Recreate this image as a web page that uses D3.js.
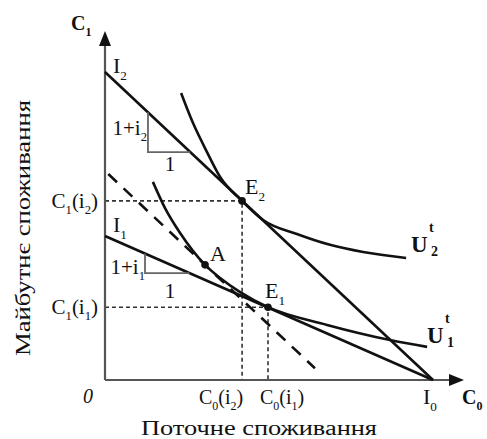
<!DOCTYPE html>
<html>
<head>
<meta charset="utf-8">
<script src="https://cdn.jsdelivr.net/npm/d3@7"></script>
<style>
  body { margin: 0; background: #fff; }
  svg text { font-family: "Liberation Serif", "Times New Roman", "DejaVu Serif", serif; fill: #111; }
</style>
</head>
<body>
<div id="chart"></div>
<script>
var width = 487,
    height = 439;

// budget lines (C0, C1) end points
var budgetI2 = [[0, 9.39], [10, 0]];
var budgetI1 = [[0, 4.39], [10, 0]];
// compensated budget line (parallel to I2, through A)
var dashedLine = [[0.1, 6.28], [6.4, 0.36]];

// indifference curves
var curveU2 = [[2.32, 8.75], [2.68, 7.84], [3.11, 6.95], [3.51, 6.19], [4.18, 5.46],
               [4.82, 4.88], [5.85, 4.45], [6.86, 4.12], [7.87, 3.90], [9.18, 3.72]];
var curveU1 = [[1.46, 6.04], [1.83, 5.24], [2.29, 4.48], [3.05, 3.51], [3.51, 3.11],
               [4.12, 2.68], [4.97, 2.22], [6.77, 1.68], [8.69, 1.22], [9.82, 1.01]];

// points
var pointNames = ["E_2", "E_1", "A"];
var pointX = [4.18, 4.97, 3.05];
var pointY = [5.46, 2.22, 3.51];

// tick labels
var yTickValues = [5.46, 2.22];
var yTickLabels = ["C_1(i_2)", "C_1(i_1)"];
var xTickValues = [4.18, 4.97];
var xTickLabels = ["C_0(i_2)", "C_0(i_1)"];

var svg = d3.select("#chart")
    .append("svg")
    .attr("width", width)
    .attr("height", height)
    .attr("font-family", "Liberation Serif, Times New Roman, serif");

var x = d3.scaleLinear().domain([0, 10]).range([105, 433]);
var y = d3.scaleLinear().domain([0, 10]).range([380, 52]);

var line = d3.line()
    .x(function (d) { return x(d[0]) })
    .y(function (d) { return y(d[1]) });

var smooth = d3.line()
    .x(function (d) { return x(d[0]) })
    .y(function (d) { return y(d[1]) })
    .curve(d3.curveMonotoneX);

// text with _sub and ^sup characters
function richText(px, py, str, size, anchor, weight) {
    var t = svg.append("text")
        .attr("x", px).attr("y", py)
        .attr("font-size", size)
        .attr("text-anchor", anchor || "start")
        .attr("font-weight", weight || "normal");
    var parts = [], buf = "", i = 0;
    while (i < str.length) {
        var c = str[i];
        if (c === "_" || c === "^") {
            if (buf) { parts.push([buf, 0]); buf = ""; }
            parts.push([str[i + 1], c === "_" ? size * 0.3 : -size * 0.45]);
            i += 2;
        } else {
            buf += c;
            i++;
        }
    }
    if (buf) parts.push([buf, 0]);
    var cur = 0;
    parts.forEach(function (p) {
        var s = t.append("tspan").attr("dy", p[1] - cur).text(p[0]);
        if (p[1] !== 0) s.attr("font-size", size * 0.6);
        cur = p[1];
    });
    return t;
}

// dashed guides
pointNames.forEach(function (n, i) {
    if (n === "A") return;
    svg.append("path")
        .attr("d", "M" + x(0) + "," + y(pointY[i]) + "H" + x(pointX[i]) + "V" + y(0))
        .attr("fill", "none")
        .attr("stroke", "#333")
        .attr("stroke-width", 1.6)
        .attr("stroke-dasharray", "4,3");
});

// axes
svg.append("line")
    .attr("x1", x(0)).attr("y1", y(0))
    .attr("x2", x(0)).attr("y2", 44)
    .attr("stroke", "#555").attr("stroke-width", 2.2);
svg.append("line")
    .attr("x1", x(0)).attr("y1", y(0))
    .attr("x2", 452).attr("y2", y(0))
    .attr("stroke", "#555").attr("stroke-width", 2.2);
svg.append("path")
    .attr("d", "M" + x(0) + ",31 L" + (x(0) - 6) + ",46 L" + (x(0) + 6) + ",46Z")
    .attr("fill", "#111");
svg.append("path")
    .attr("d", "M464," + y(0) + " L449," + (y(0) - 6) + " L449," + (y(0) + 6) + "Z")
    .attr("fill", "#111");

// budget lines
[budgetI2, budgetI1].forEach(function (b) {
    svg.append("path")
        .attr("d", line(b))
        .attr("fill", "none")
        .attr("stroke", "#111")
        .attr("stroke-width", 2.6);
});

svg.append("path")
    .attr("d", line(dashedLine))
    .attr("fill", "none")
    .attr("stroke", "#111")
    .attr("stroke-width", 2.6)
    .attr("stroke-dasharray", "12,9");

// indifference curves
[curveU2, curveU1].forEach(function (c) {
    svg.append("path")
        .attr("d", smooth(c))
        .attr("fill", "none")
        .attr("stroke", "#111")
        .attr("stroke-width", 2.6);
});

// slope triangles
function slopeTriangle(b, xv, yh) {
    var k = (b[1][1] - b[0][1]) / (b[1][0] - b[0][0]);
    var yTop = b[0][1] + k * xv;
    var xEnd = (yh - b[0][1]) / k;
    svg.append("path")
        .attr("d", "M" + x(xv) + "," + y(yTop) + "V" + y(yh) + "H" + x(xEnd))
        .attr("fill", "none")
        .attr("stroke", "#666")
        .attr("stroke-width", 1.8);
}
slopeTriangle(budgetI2, 1.31, 6.95);
slopeTriangle(budgetI1, 1.22, 3.26);

// points
svg.selectAll(".pt")
    .data(pointNames)
    .enter().append("circle")
    .attr("class", "pt")
    .attr("cx", function (d, i) { return x(pointX[i]) })
    .attr("cy", function (d, i) { return y(pointY[i]) })
    .attr("r", 3.8)
    .attr("fill", "#111");

// point labels
richText(x(pointX[0]) + 3, y(pointY[0]) - 7, pointNames[0], 22);
richText(x(pointX[1]) - 3, y(pointY[1]) - 9, pointNames[1], 22);
richText(x(pointX[2]) + 5, y(pointY[2]) - 4, pointNames[2], 22);

// line labels
richText(x(0) + 8, y(budgetI2[0][1]) + 1, "I_2", 22);
richText(x(0) + 8, y(budgetI1[0][1]) - 4, "I_1", 22);
richText(x(budgetI2[1][0]) - 10, 404, "I_0", 22);
richText(147, 135, "1+i_2", 21, "end");
richText(170, 171, "1", 21, "middle");
richText(145, 274, "1+i_1", 21, "end");
richText(170, 298, "1", 21, "middle");

// curve labels
richText(411, 252, "U", 23, "start", "bold");
svg.append("text").attr("x", 429).attr("y", 232).attr("font-size", 14).attr("font-weight", "bold").text("t");
svg.append("text").attr("x", 431).attr("y", 256).attr("font-size", 14).attr("font-weight", "bold").text("2");
richText(427, 343, "U", 23, "start", "bold");
svg.append("text").attr("x", 445).attr("y", 323).attr("font-size", 14).attr("font-weight", "bold").text("t");
svg.append("text").attr("x", 447).attr("y", 347).attr("font-size", 14).attr("font-weight", "bold").text("1");

// tick labels
yTickValues.forEach(function (v, i) {
    richText(98, y(v) + 7, yTickLabels[i], 21, "end");
});
richText(x(xTickValues[0]) - 21, 404, xTickLabels[0], 20, "middle");
richText(x(xTickValues[1]) + 14, 404, xTickLabels[1], 20, "middle");

// axis names
richText(71, 30, "C_1", 20, "start", "bold");
richText(462, 404, "C_0", 20, "start", "bold");
svg.append("text")
    .attr("x", 88).attr("y", 403)
    .attr("font-size", 20)
    .attr("font-style", "italic")
    .attr("text-anchor", "middle")
    .text("0");

svg.append("text")
    .attr("x", 259).attr("y", 435)
    .attr("font-size", 20)
    .attr("text-anchor", "middle")
    .attr("textLength", 236)
    .attr("lengthAdjust", "spacingAndGlyphs")
    .text("Поточне споживання");

svg.append("text")
    .attr("transform", "translate(30,228) rotate(-90)")
    .attr("font-size", 22)
    .attr("text-anchor", "middle")
    .attr("textLength", 256)
    .attr("lengthAdjust", "spacingAndGlyphs")
    .text("Майбутнє споживання");
</script>
</body>
</html>
